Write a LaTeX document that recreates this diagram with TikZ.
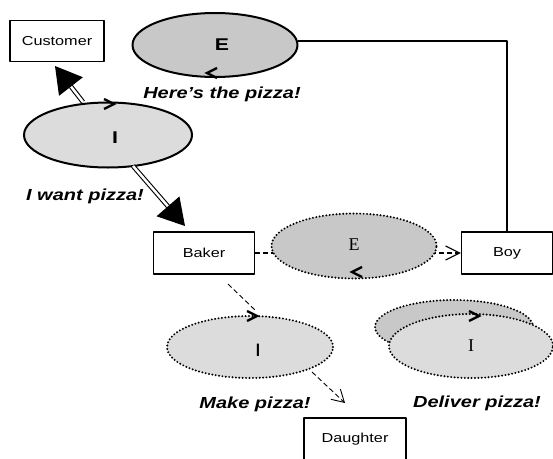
\documentclass[tikz,border=0pt]{standalone}
\usepackage{fontspec}
\setmainfont{Liberation Sans}[FakeStretch=1.25]
\newfontfamily\timesf{Liberation Serif}
\usetikzlibrary{shapes.geometric,arrows.meta}
\definecolor{egray}{RGB}{200,200,200}
\definecolor{igray}{RGB}{220,220,220}
\tikzset{
  box/.style={draw,line width=1.1pt,inner sep=0pt,font=\fontsize{13}{15}\selectfont},
  blob/.style={ellipse,inner sep=0pt,line width=2pt},
  dots/.style={dash pattern=on 0pt off 3.4pt,line cap=round,line width=2.2pt},
  say/.style={font=\fontsize{16}{18}\selectfont\bfseries\itshape},
  chev/.style={line width=2.4pt,line cap=butt,line join=miter},
  big/.style={font=\fontsize{17}{19}\selectfont\bfseries}
}
\begin{document}
\begin{tikzpicture}[x=1pt,y=-1pt,line join=round]
	\useasboundingbox (0,0) rectangle (553,458);
	% boxes
	\node[box,minimum width=94pt,minimum height=41pt] (cust) at (57,41) {Customer};
	\node[box,minimum width=101pt,minimum height=42pt] (baker) at (204,253) {Baker};
	\node[box,minimum width=91pt,minimum height=42pt] (boy) at (507,253) {Boy};
	\node[box,minimum width=102pt,minimum height=42pt] (dau) at (355,439) {Daughter};
	% connectors under the bubbles
	\draw[line width=1.1pt] (298,41) -| (boy.north);
	\draw[line width=1.2pt,dash pattern=on 5pt off 3pt,-{Straight Barb[length=14pt,width=14pt]}] (baker.east) -- (boy.west);
	\path (228,284) coordinate (b1) (256,311) coordinate (b2)
	      (312,372) coordinate (d1) (345,403) coordinate (d2)
	      (83,102) coordinate (c1) (55,66) coordinate (c2)
	      (133,166) coordinate (k1) (185,226) coordinate (k2);
	\draw[line width=0.9pt,dash pattern=on 5pt off 3pt] (b1) -- (b2);
	\draw[line width=0.9pt,dash pattern=on 5pt off 3pt,-{Straight Barb[length=12pt,width=14pt]}] (d1) -- (d2);
	% bubbles
	\node[blob,draw,fill=egray,minimum width=165pt,minimum height=64pt,
	  label={[xshift=7pt,big]center:E}] (etop) at (215,45) {};
	\node[blob,draw,fill=igray,minimum width=168pt,minimum height=65pt,
	  label={[xshift=7pt,yshift=-3pt,big]center:I}] (itop) at (108,135) {};
	\node[blob,draw,dots,fill=egray,minimum width=165pt,minimum height=65pt,
	  font=\timesf\fontsize{18}{20}\selectfont] (emid) at (354,246) {\raisebox{3pt}{E}};
	\node[blob,draw,dots,fill=igray,minimum width=166pt,minimum height=62pt,
	  label={[xshift=8pt,yshift=-3pt,font=\fontsize{18}{20}\selectfont]center:I}] (imake) at (250,347) {};
	\node[blob,draw,dots,fill=egray,minimum width=158pt,minimum height=54pt] (iback) at (454,327) {};
	\node[blob,draw,dots,fill=igray,minimum width=164pt,minimum height=64pt,
	  font=\timesf\fontsize{18}{20}\selectfont] (ifront) at (471,346) {I};
	% double arrows
	\draw[double=white,double distance=2.5pt,line width=1.1pt,-{Triangle[length=26pt,width=30pt]}] (c1) -- (c2);
	\draw[double=white,double distance=2.5pt,line width=1.1pt,-{Triangle[length=26pt,width=30pt]}] (k1) -- (k2);
	% turn marks
	\foreach \x/\y/\d in {114/104/1,207/73/-1,352/272/-1,257/316/1,479/316/1}
	\draw[chev] (\x-\d*10,\y-5) -- (\x,\y) -- (\x-\d*10,\y+5);
	% sayings
	\node[say] (s1) at (222,94) {Here’s the pizza!};
	\node[say] (s2) at (85,196) {I want pizza!};
	\node[say] (s3) at (255,404) {Make pizza!};
	\node[say] (s4) at (477,403) {Deliver pizza!};
\end{tikzpicture}
\end{document}
